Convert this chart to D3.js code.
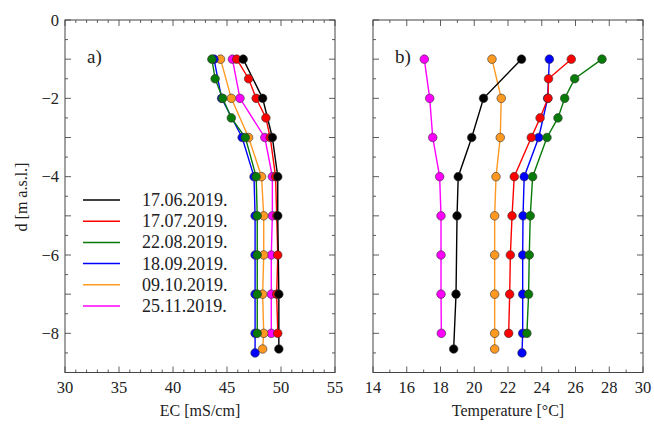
<!DOCTYPE html>
<html><head><meta charset="utf-8">
<script src="https://cdn.jsdelivr.net/npm/d3@7"></script>
<style>body{margin:0;background:#fff}svg{display:block}</style>
</head><body>
<svg id="c" width="654" height="425"></svg>
<script>
const dates = ["17.06.2019.","17.07.2019.","22.08.2019.","18.09.2019.","09.10.2019.","25.11.2019."];
const colors = ["#000000","#ff0000","#087a08","#0000ff","#ff9922","#ff00ff"];
const depths = [
  [-1,-2,-3,-4,-5,-7,-8.4],
  [-1,-1.5,-2,-2.5,-3,-4,-5,-6,-7,-8],
  [-1,-1.5,-2,-2.5,-3,-4,-5,-6,-7,-8],
  [-1,-2,-3,-4,-5,-6,-7,-8,-8.5],
  [-1,-2,-3,-4,-5,-6,-7,-8,-8.4],
  [-1,-2,-3,-4,-5,-6,-7,-8]
];
const ec = [
  [46.5,48.3,49.2,49.7,49.7,49.8,49.8],
  [45.9,47.0,47.7,48.6,49.0,49.5,49.6,49.7,49.6,49.7],
  [43.6,43.9,44.6,45.4,46.7,47.7,47.8,47.8,47.8,47.8],
  [43.8,44.5,46.4,47.5,47.6,47.6,47.6,47.6,47.6],
  [44.4,45.4,47.0,48.2,48.4,48.4,48.3,48.4,48.3],
  [45.5,46.2,48.5,49.2,49.2,49.1,49.1,49.1]
];
const temp = [
  [22.8,20.55,19.85,19.05,18.98,18.92,18.78],
  [25.75,24.4,24.37,23.9,23.38,22.37,22.24,22.14,22.1,22.04],
  [27.57,25.95,25.36,24.96,24.31,23.46,23.32,23.26,23.22,23.12],
  [24.45,24.35,23.82,22.96,22.89,22.87,22.87,22.87,22.83],
  [21.05,21.6,21.54,21.29,21.21,21.21,21.21,21.21,21.21],
  [17.04,17.36,17.54,17.95,18.03,18.03,18.03,18.05]
];
const ecTicks = [30,35,40,45,50,55];
const tTicks = [14,16,18,20,22,24,26,28,30];
const dTicks = [0,-2,-4,-6,-8];

const svg = d3.select("#c");
const font = "Liberation Serif, Times New Roman, serif";
const y = d3.scaleLinear().domain([-9,0]).range([372.5,20]);

function panel(x0,x1,domain,majorStep,minorStep,labels,values,title,label,showY){
  const x = d3.scaleLinear().domain(domain).range([x0,x1]);
  const g = svg.append("g");
  const [top,bot] = [y(0), y(-9)];
  const xt = d3.range(domain[0],domain[1]+1e-9,minorStep);
  xt.forEach(v=>{
    const major = Math.abs(v/majorStep - Math.round(v/majorStep))<1e-6;
    const L = major?6:3;
    g.append("line").attr("x1",x(v)).attr("x2",x(v)).attr("y1",bot).attr("y2",bot-L).attr("stroke","#333").attr("stroke-width",0.8);
    g.append("line").attr("x1",x(v)).attr("x2",x(v)).attr("y1",top).attr("y2",top+L).attr("stroke","#333").attr("stroke-width",0.8);
  });
  const yt = d3.range(-9,0.001,0.5);
  yt.forEach(v=>{
    const major = Math.abs(v-Math.round(v))<1e-6;
    const L = major?6:3;
    g.append("line").attr("x1",x0).attr("x2",x0+L).attr("y1",y(v)).attr("y2",y(v)).attr("stroke","#333").attr("stroke-width",0.8);
    g.append("line").attr("x1",x1).attr("x2",x1-L).attr("y1",y(v)).attr("y2",y(v)).attr("stroke","#333").attr("stroke-width",0.8);
  });
  g.append("rect").attr("x",x0).attr("y",top).attr("width",x1-x0).attr("height",bot-top)
    .attr("fill","none").attr("stroke","#444").attr("stroke-width",1);
  labels.forEach(v=>{
    g.append("text").attr("x",x(v)).attr("y",393).attr("text-anchor","middle")
      .attr("font-family",font).attr("font-size",16.5).attr("fill","#222").text(v);
  });
  if(showY){
    dTicks.forEach(v=>{
      g.append("text").attr("x",x0-6).attr("y",y(v)+5.5).attr("text-anchor","end")
        .attr("font-family",font).attr("font-size",16.5).attr("fill","#222").text(v===0?"0":"\u2212"+Math.abs(v));
    });
  }
  g.append("text").attr("x",(x0+x1)/2).attr("y",416).attr("text-anchor","middle")
    .attr("font-family",font).attr("font-size",16).attr("fill","#222").text(label);
  g.append("text").attr("x",x0+22).attr("y",63).attr("font-family",font).attr("font-size",19).attr("fill","#222").text(title);
  const line = d3.line().x(d=>x(d[0])).y(d=>y(d[1]));
  const order = [5,4,3,2,1,0];
  order.forEach(i=>{
    const pts = values[i].map((v,j)=>[v,depths[i][j]]);
    g.append("path").attr("d",line(pts)).attr("fill","none").attr("stroke",colors[i]).attr("stroke-width",1.4);
  });
  order.forEach(i=>{
    const pts = values[i].map((v,j)=>[v,depths[i][j]]);
    g.selectAll(null).data(pts).enter().append("circle")
      .attr("cx",d=>x(d[0])).attr("cy",d=>y(d[1])).attr("r",4.3)
      .attr("fill",colors[i]).attr("stroke","#333").attr("stroke-width",0.6);
  });
}
panel(65,335,[30,55],5,1,ecTicks,ec,"a)","EC [mS/cm]",true);
panel(373,643,[14,30],2,1,tTicks,temp,"b)","Temperature [\u00B0C]",false);

svg.append("text").attr("transform","translate(27,197) rotate(-90)").attr("text-anchor","middle")
  .attr("font-family",font).attr("font-size",16).attr("fill","#222").text("d [m a.s.l.]");

const lg = svg.append("g");
dates.forEach((d,i)=>{
  const yy = 200 + i*21.2;
  lg.append("line").attr("x1",83).attr("x2",120).attr("y1",yy).attr("y2",yy).attr("stroke",colors[i]).attr("stroke-width",1.5);
  lg.append("text").attr("x",142).attr("y",yy+6).attr("font-family",font).attr("font-size",18).attr("fill","#222").text(d);
});
</script>
</body></html>
